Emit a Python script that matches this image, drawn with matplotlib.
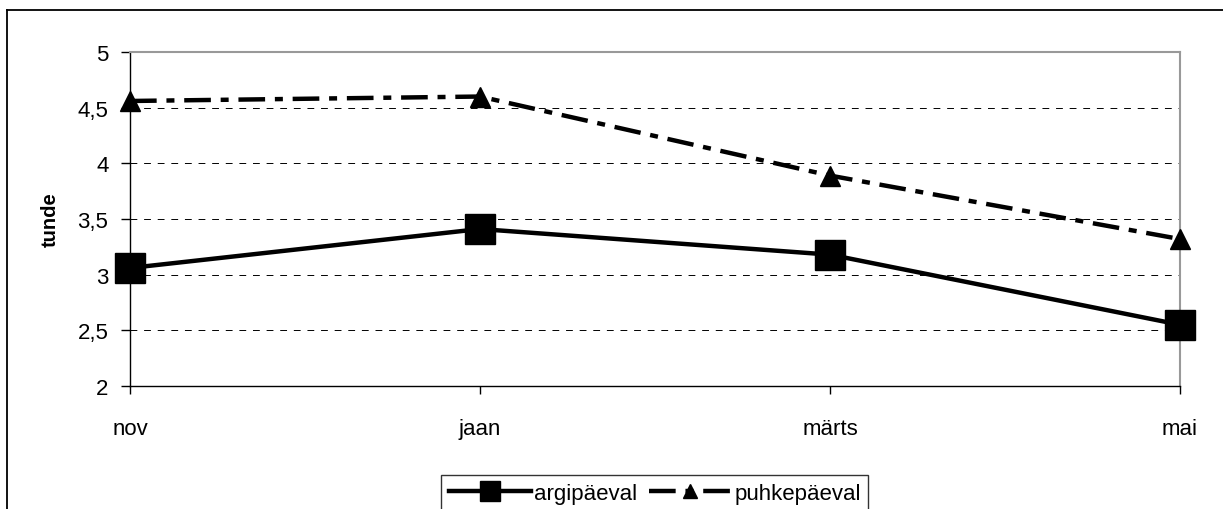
import numpy as np
import matplotlib.pyplot as plt
from matplotlib.lines import Line2D
from matplotlib.ticker import FuncFormatter

plt.rcParams["font.family"] = ["Liberation Sans", "DejaVu Sans"]

# Data
months = ["nov", "jaan", "märts", "mai"]
argipaeval = [3.06, 3.41, 3.18, 2.55]
puhkepaeval = [4.56, 4.60, 3.89, 3.32]

x = np.arange(len(months))

fig = plt.figure(figsize=(12.23, 5.10), dpi=100)
ax = fig.add_axes([130 / 1223, 1 - 387 / 510, 1050 / 1223, 334 / 510])

# outer chart border (left and top edges visible)
fig.add_artist(Line2D([7 / 1223, 7 / 1223], [0, 1 - 11 / 510], transform=fig.transFigure,
                      color="black", linewidth=1.3))
fig.add_artist(Line2D([7 / 1223, 1], [1 - 11 / 510, 1 - 11 / 510], transform=fig.transFigure,
                      color="black", linewidth=1.3))

ax.plot(x, argipaeval, color="black", linewidth=3.2, marker="s", markersize=22,
        clip_on=False, zorder=3, label="argipäeval")
ax.plot(x, puhkepaeval, color="black", linewidth=3.2, marker="^", markersize=15,
        dashes=(6, 2.2, 1.8, 2.2), clip_on=False, zorder=3, label="puhkepäeval")

ax.set_xlim(0, 3)
ax.set_ylim(2, 5)
ax.set_xticks(x)
ax.set_xticklabels(months)
ax.set_yticks(np.arange(2, 5.01, 0.5))
ax.yaxis.set_major_formatter(FuncFormatter(lambda v, p: f"{v:g}".replace(".", ",")))

for y in np.arange(2.5, 5.0, 0.5):
    ax.axhline(y, color="black", linewidth=0.7, dashes=(7, 7), zorder=1)

for side in ["top", "right"]:
    ax.spines[side].set_color("#999999")
    ax.spines[side].set_linewidth(1.5)
for side in ["left", "bottom"]:
    ax.spines[side].set_color("black")
    ax.spines[side].set_linewidth(1.0)

ax.tick_params(axis="y", direction="out", length=6.5, width=1, pad=9, labelsize=16)
ax.tick_params(axis="x", direction="out", length=6, width=1, pad=17, labelsize=16)
ax.set_ylabel("tunde", fontsize=14.5, fontweight="bold", labelpad=13)

leg = fig.legend(loc="lower left", bbox_to_anchor=(441 / 1223, -0.005),
                 ncol=2, fontsize=16, frameon=True, fancybox=False,
                 handlelength=3.7, handletextpad=0.15, columnspacing=0.5,
                 borderpad=0.35, borderaxespad=0, markerscale=0.65)
leg.get_frame().set_edgecolor("black")
leg.get_frame().set_linewidth(1.0)

fig.savefig("out.png", dpi=100)
